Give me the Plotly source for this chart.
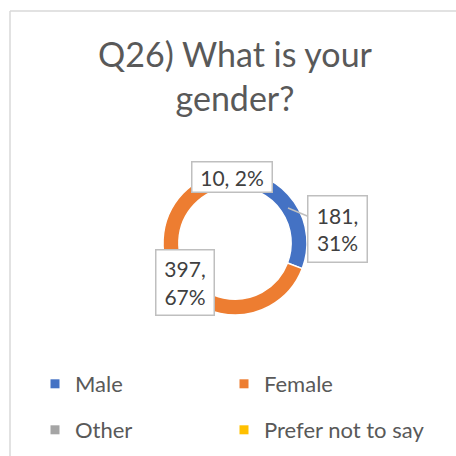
import plotly.graph_objects as go

categories = ["Male", "Female", "Other", "Prefer not to say"]
counts = [181, 397, 10, 0]
pct_labels = ["31%", "67%", "2%", ""]
colors = ["#4472C4", "#ED7D31", "#A5A5A5", "#FFC000"]
title_text = "Q26) What is your<br>gender?"

W = H = 456
FONT = "Lato"

def px(x):
    return x / W

def py(y):
    return 1 - y / H

fig = go.Figure()
fig.add_trace(go.Pie(
    labels=categories, values=counts, sort=False, direction="clockwise",
    rotation=0, hole=0.78, textinfo="none", hoverinfo="label+value+percent",
    marker=dict(colors=colors, line=dict(color="white", width=1.5)),
    domain=dict(x=[px(163), px(307)], y=[py(315), py(171)]),
    showlegend=False,
))

# legend entries (one legend per entry for exact placement)
leg_pos = [(35, 384), (224, 384), (35, 430), (224, 430)]
layout_legends = {}
for i, (name, col) in enumerate(zip(categories, colors)):
    key = "legend" if i == 0 else f"legend{i+1}"
    fig.add_trace(go.Scatter(
        x=[None], y=[None], mode="markers", name=name,
        marker=dict(symbol="square", size=9, color=col),
        legend=key, showlegend=True,
    ))
    lx, ly = leg_pos[i]
    layout_legends[key] = dict(
        x=px(lx), y=py(ly), xanchor="left", yanchor="middle",
        font=dict(family=FONT, size=22, color="#595959"),
        bgcolor="rgba(0,0,0,0)", borderwidth=0,
    )

# data label boxes
label_pos = {
    "Other": dict(x=px(232.5), y=py(177.5), showarrow=False, width=77, height=27),
    "Male": dict(x=px(288), y=py(208), showarrow=True, ax=49, ay=20.5,
                 arrowhead=0, arrowcolor="#bfbfbf", arrowwidth=1.5,
                 width=56, height=63),
    "Female": dict(x=px(184.5), y=py(282), showarrow=False, width=55, height=62),
}
annotations = []
for name, v, p in zip(categories, counts, pct_labels):
    if name not in label_pos:
        continue
    txt = f"{v}, {p}" if name == "Other" else f"{v},<br>{p}"
    a = dict(text=txt, xref="paper", yref="paper", align="center",
             font=dict(family=FONT, size=21, color="#404040"),
             bgcolor="white", bordercolor="#bfbfbf", borderwidth=1.5,
             borderpad=1)
    a.update(label_pos[name])
    annotations.append(a)

fig.update_layout(
    width=W, height=H,
    margin=dict(l=0, r=0, t=0, b=0, autoexpand=False),
    paper_bgcolor="white", plot_bgcolor="white",
    title=dict(text=title_text, x=px(235), xanchor="center",
               y=py(67), yanchor="top", yref="container",
               font=dict(family=FONT, size=34, color="#595959")),
    xaxis=dict(visible=False), yaxis=dict(visible=False),
    annotations=annotations,
    shapes=[
        dict(type="line", xref="paper", yref="paper", x0=px(10), x1=px(10),
             y0=0, y1=py(11), line=dict(color="#d9d9d9", width=1.5)),
        dict(type="line", xref="paper", yref="paper", x0=px(10), x1=1,
             y0=py(11), y1=py(11), line=dict(color="#d9d9d9", width=1.5)),
    ],
    **layout_legends,
)

fig.write_html("out.html", config={"displayModeBar": False},
               post_script="document.body.style.margin='0';")
